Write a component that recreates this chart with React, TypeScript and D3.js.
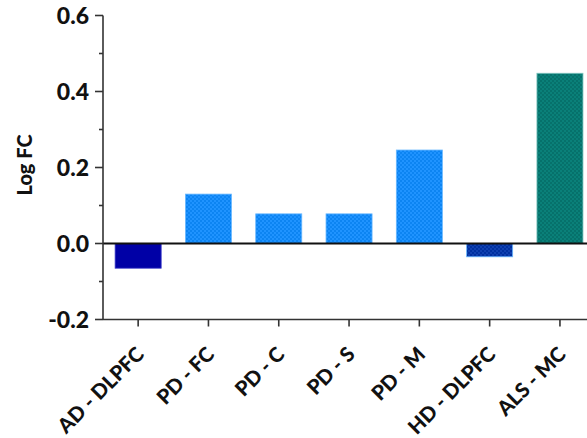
import { useEffect, useRef } from 'react'
import * as d3 from 'd3'

const categories = ['AD - DLPFC', 'PD - FC', 'PD - C', 'PD - S', 'PD - M', 'HD - DLPFC', 'ALS - MC']
const logFC = [-0.065, 0.13, 0.078, 0.078, 0.246, -0.035, 0.448]
const fills = ['#0000a6', 'url(#pdPat)', 'url(#pdPat)', 'url(#pdPat)', 'url(#pdPat)', 'url(#hdPat)', 'url(#alsPat)']
const majorTicks = [-0.2, 0, 0.2, 0.4, 0.6]
const minorTicks = [-0.1, 0.1, 0.3, 0.5]

const W = 587
const H = 438
const FONT = 'Lato, "Open Sans", sans-serif'

export default function App() {
  const svgRef = useRef<SVGSVGElement | null>(null)

  useEffect(() => {
    if (!svgRef.current) return
    const svg = d3.select(svgRef.current)
    svg.selectAll('*').remove()

    const axisX = 103
    const y = d3.scaleLinear().domain([-0.2, 0.6]).range([319.5, 15.5])
    const x = d3
      .scaleBand<string>()
      .domain(categories)
      .range([axisX, axisX + 7 * 70.3])
      .paddingInner(0.345)
      .paddingOuter(0.1725)

    // checker patterns for the hatched bars
    const defs = svg.append('defs')
    const pat = (id: string, base: string, dot: string) => {
      const p = defs
        .append('pattern')
        .attr('id', id)
        .attr('patternUnits', 'userSpaceOnUse')
        .attr('width', 4)
        .attr('height', 4)
      p.append('rect').attr('width', 4).attr('height', 4).attr('fill', base)
      p.append('rect').attr('width', 2).attr('height', 2).attr('fill', dot)
      p.append('rect').attr('x', 2).attr('y', 2).attr('width', 2).attr('height', 2).attr('fill', dot)
    }
    pat('pdPat', '#1f93ff', '#0c84f2')
    pat('hdPat', '#1040b0', '#0030a0')
    pat('alsPat', '#0a8079', '#06716b')

    // bars
    svg
      .append('g')
      .selectAll('rect')
      .data(logFC)
      .join('rect')
      .attr('x', (_, i) => x(categories[i])!)
      .attr('width', x.bandwidth())
      .attr('y', (d) => y(Math.max(0, d)))
      .attr('height', (d) => Math.abs(y(d) - y(0)))
      .attr('fill', (_, i) => fills[i])
      .attr('stroke', (_, i) => (i === 6 ? '#7fc4bf' : i === 0 ? '#3b3bc8' : '#6ab8ff'))
      .attr('stroke-width', 0.8)

    // zero line
    svg
      .append('line')
      .attr('x1', axisX)
      .attr('x2', W)
      .attr('y1', y(0))
      .attr('y2', y(0))
      .attr('stroke', '#111')
      .attr('stroke-width', 2.2)

    // y axis
    const ax = svg.append('g').attr('stroke', '#333').attr('stroke-width', 1.6)
    ax.append('line').attr('x1', axisX).attr('x2', axisX).attr('y1', y(0.6)).attr('y2', y(-0.2))
    ax.selectAll('line.maj')
      .data(majorTicks)
      .join('line')
      .attr('class', 'maj')
      .attr('x1', axisX - 8)
      .attr('x2', axisX)
      .attr('y1', (d) => y(d))
      .attr('y2', (d) => y(d))
    ax.selectAll('line.min')
      .data(minorTicks)
      .join('line')
      .attr('class', 'min')
      .attr('x1', axisX - 4)
      .attr('x2', axisX)
      .attr('y1', (d) => y(d))
      .attr('y2', (d) => y(d))

    svg
      .append('g')
      .selectAll('text')
      .data(majorTicks)
      .join('text')
      .attr('x', axisX - 14)
      .attr('y', (d) => y(d))
      .attr('dy', '0.36em')
      .attr('text-anchor', 'end')
      .attr('font-family', FONT)
      .attr('font-weight', 900)
      .attr('font-size', 23)
      .attr('fill', '#111')
      .text((d) => d.toFixed(1))

    svg
      .append('text')
      .attr('transform', `translate(32,${165}) rotate(-90)`)
      .attr('text-anchor', 'middle')
      .attr('font-family', FONT)
      .attr('font-weight', 900)
      .attr('font-size', 20)
      .attr('fill', '#111')
      .text('Log FC')

    // x axis
    const bx = svg.append('g').attr('stroke', '#333').attr('stroke-width', 1.6)
    bx.append('line').attr('x1', axisX).attr('x2', W).attr('y1', y(-0.2)).attr('y2', y(-0.2))
    bx.selectAll('line.t')
      .data(categories)
      .join('line')
      .attr('class', 't')
      .attr('x1', (d) => x(d)! + x.bandwidth() / 2)
      .attr('x2', (d) => x(d)! + x.bandwidth() / 2)
      .attr('y1', y(-0.2))
      .attr('y2', y(-0.2) + 7)

    svg
      .append('g')
      .selectAll('text')
      .data(categories)
      .join('text')
      .attr(
        'transform',
        (d) => `translate(${x(d)! + x.bandwidth() / 2 + 2},${y(-0.2) + 31}) rotate(-45)`,
      )
      .attr('text-anchor', 'end')
      .attr('dy', '0.35em')
      .attr('font-family', FONT)
      .attr('font-weight', 900)
      .attr('font-size', 20.5)
      .attr('fill', '#111')
      .text((d) => d)
  }, [])

  return (
    <svg
      ref={svgRef}
      width={W}
      height={H}
      style={{ position: 'absolute', left: 0, top: 0, background: '#fff' }}
    />
  )
}
